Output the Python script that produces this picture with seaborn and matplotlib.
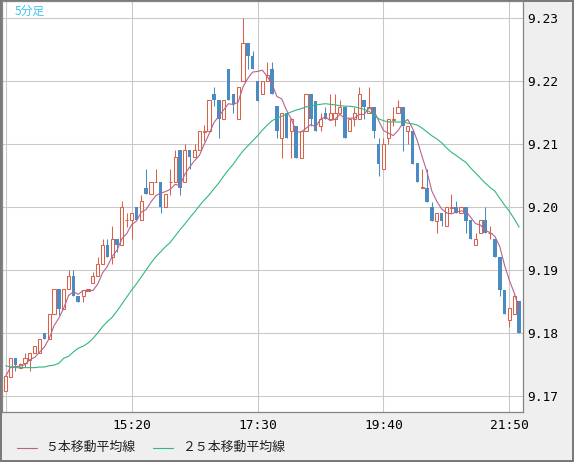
import numpy as np
import pandas as pd
import seaborn as sns
import matplotlib.pyplot as plt
from matplotlib.lines import Line2D


# 5-minute bars starting 13:10 (bar 0)
open_ = [9.1708, 9.1730, 9.1760, 9.1744, 9.1752, 9.1757, 9.1769, 9.1769, 9.1800, 9.1790,
         9.1830, 9.1870, 9.1838, 9.1870, 9.1890, 9.1859, 9.1859, 9.1867, 9.1879, 9.1890,
         9.1909, 9.1939, 9.1920, 9.1950, 9.1939, 9.1979, 9.1979, 9.2000, 9.1979, 9.2030,
         9.2021, 9.2039, 9.2040, 9.2000, 9.2039, 9.2039, 9.2090, 9.2039, 9.2090, 9.2079,
         9.2090, 9.2119, 9.2120, 9.2179, 9.2170, 9.2140, 9.2219, 9.2179, 9.2140, 9.2200,
         9.2260, 9.2239, 9.2200, 9.2179, 9.2200, 9.2219, 9.2160, 9.2109, 9.2149, 9.2120,
         9.2129, 9.2078, 9.2120, 9.2179, 9.2169, 9.2129, 9.2149, 9.2139, 9.2139, 9.2149,
         9.2159, 9.2120, 9.2139, 9.2139, 9.2170, 9.2149, 9.2159, 9.2100, 9.2060, 9.2109,
         9.2138, 9.2149, 9.2159, 9.2120, 9.2120, 9.2070, 9.2030, 9.2030, 9.2000, 9.1978,
         9.1990, 9.1970, 9.1999, 9.2000, 9.1990, 9.2000, 9.1979, 9.1940, 9.1959, 9.1979,
         9.1958, 9.1950, 9.1920, 9.1869, 9.1821, 9.1830, 9.1851]
high = [9.1731, 9.1760, 9.1760, 9.1752, 9.1769, 9.1769, 9.1779, 9.1790, 9.1800, 9.1830,
        9.1870, 9.1870, 9.1870, 9.1900, 9.1900, 9.1859, 9.1868, 9.1870, 9.1897, 9.1921,
        9.1950, 9.1950, 9.1970, 9.1950, 9.2010, 9.1990, 9.1990, 9.2000, 9.2019, 9.2060,
        9.2040, 9.2060, 9.2040, 9.2021, 9.2060, 9.2090, 9.2090, 9.2100, 9.2090, 9.2100,
        9.2120, 9.2130, 9.2170, 9.2191, 9.2170, 9.2170, 9.2219, 9.2179, 9.2190, 9.2300,
        9.2260, 9.2248, 9.2200, 9.2200, 9.2230, 9.2230, 9.2160, 9.2149, 9.2149, 9.2139,
        9.2129, 9.2120, 9.2179, 9.2179, 9.2169, 9.2149, 9.2158, 9.2179, 9.2179, 9.2170,
        9.2159, 9.2139, 9.2159, 9.2190, 9.2170, 9.2190, 9.2159, 9.2109, 9.2109, 9.2139,
        9.2159, 9.2170, 9.2159, 9.2129, 9.2120, 9.2070, 9.2060, 9.2060, 9.2008, 9.1990,
        9.1990, 9.2000, 9.2021, 9.2010, 9.2000, 9.2000, 9.1979, 9.1959, 9.1979, 9.2000,
        9.1970, 9.1950, 9.1920, 9.1869, 9.1839, 9.1860, 9.1851]
low = [9.1708, 9.1730, 9.1739, 9.1744, 9.1746, 9.1739, 9.1769, 9.1769, 9.1790, 9.1790,
       9.1830, 9.1829, 9.1838, 9.1870, 9.1859, 9.1850, 9.1850, 9.1867, 9.1879, 9.1890,
       9.1909, 9.1920, 9.1910, 9.1929, 9.1939, 9.1969, 9.1950, 9.1979, 9.1979, 9.2021,
       9.2021, 9.2039, 9.1990, 9.2000, 9.2019, 9.2039, 9.2019, 9.2039, 9.2060, 9.2079,
       9.2090, 9.2104, 9.2120, 9.2160, 9.2109, 9.2140, 9.2170, 9.2149, 9.2140, 9.2200,
       9.2219, 9.2219, 9.2168, 9.2179, 9.2200, 9.2179, 9.2109, 9.2078, 9.2109, 9.2078,
       9.2078, 9.2078, 9.2120, 9.2129, 9.2120, 9.2120, 9.2139, 9.2139, 9.2129, 9.2149,
       9.2109, 9.2120, 9.2129, 9.2139, 9.2139, 9.2149, 9.2109, 9.2049, 9.2060, 9.2100,
       9.2129, 9.2149, 9.2089, 9.2100, 9.2069, 9.2039, 9.2030, 9.2008, 9.1978, 9.1959,
       9.1970, 9.1970, 9.1990, 9.1990, 9.1990, 9.1959, 9.1950, 9.1940, 9.1959, 9.1959,
       9.1950, 9.1920, 9.1859, 9.1830, 9.1809, 9.1830, 9.1800]
close = [9.1731, 9.1760, 9.1749, 9.1750, 9.1760, 9.1769, 9.1779, 9.1790, 9.1790, 9.1830,
         9.1870, 9.1838, 9.1870, 9.1890, 9.1859, 9.1850, 9.1868, 9.1870, 9.1890, 9.1909,
         9.1939, 9.1920, 9.1950, 9.1939, 9.2000, 9.1980, 9.1990, 9.1979, 9.2010, 9.2021,
         9.2040, 9.2040, 9.2000, 9.2021, 9.2040, 9.2079, 9.2030, 9.2090, 9.2079, 9.2090,
         9.2120, 9.2120, 9.2170, 9.2170, 9.2140, 9.2170, 9.2170, 9.2163, 9.2190, 9.2260,
         9.2239, 9.2219, 9.2168, 9.2200, 9.2210, 9.2179, 9.2120, 9.2149, 9.2109, 9.2139,
         9.2078, 9.2120, 9.2179, 9.2139, 9.2120, 9.2139, 9.2139, 9.2149, 9.2149, 9.2159,
         9.2109, 9.2139, 9.2149, 9.2179, 9.2159, 9.2159, 9.2120, 9.2069, 9.2100, 9.2139,
         9.2139, 9.2159, 9.2129, 9.2129, 9.2069, 9.2039, 9.2031, 9.2008, 9.1978, 9.1990,
         9.1978, 9.2000, 9.2000, 9.1990, 9.2000, 9.1978, 9.1950, 9.1950, 9.1979, 9.1959,
         9.1959, 9.1920, 9.1869, 9.1830, 9.1839, 9.1859, 9.1800]
ma25 = [9.1748, 9.1746, 9.1745, 9.1745, 9.1745, 9.1745, 9.1745, 9.1746, 9.1746, 9.1748,
        9.1749, 9.1752, 9.1760, 9.1763, 9.1770, 9.1776, 9.1779, 9.1784, 9.1791, 9.1800,
        9.1810, 9.1818, 9.1825, 9.1835, 9.1846, 9.1857, 9.1868, 9.1878, 9.1889, 9.1900,
        9.1911, 9.1921, 9.1929, 9.1937, 9.1944, 9.1954, 9.1964, 9.1973, 9.1983, 9.1992,
        9.2002, 9.2011, 9.2019, 9.2029, 9.2038, 9.2049, 9.2059, 9.2068, 9.2079, 9.2089,
        9.2097, 9.2105, 9.2113, 9.2122, 9.2130, 9.2137, 9.2141, 9.2144, 9.2148, 9.2151,
        9.2154, 9.2156, 9.2159, 9.2160, 9.2162, 9.2163, 9.2164, 9.2163, 9.2162, 9.2161,
        9.2160, 9.2160, 9.2159, 9.2157, 9.2155, 9.2152, 9.2146, 9.2140, 9.2137, 9.2135,
        9.2135, 9.2135, 9.2135, 9.2133, 9.2132, 9.2130, 9.2125, 9.2119, 9.2113, 9.2108,
        9.2102, 9.2094, 9.2087, 9.2082, 9.2076, 9.2071, 9.2062, 9.2054, 9.2046, 9.2038,
        9.2031, 9.2025, 9.2014, 9.2003, 9.1993, 9.1981, 9.1968]

tick_bars = [0, 26, 52, 78, 104]
tick_labels = ['', '15:20', '17:30', '19:40', '21:50']
price_ticks = [9.17, 9.18, 9.19, 9.20, 9.21, 9.22, 9.23]

UP = '#d9634a'
DOWN = '#4b8bc4'
MA5_COLOR = '#b3648f'
MA25_COLOR = '#2fb97a'

df = pd.DataFrame({'bar': np.arange(len(close)), 'open': open_, 'high': high,
                   'low': low, 'close': close, 'ma25': ma25})
df['ma5'] = df['close'].rolling(5, min_periods=1).mean()

sns.set_theme(style='white')
plt.rcParams['font.family'] = ['DejaVu Sans Mono']

fig = plt.figure(figsize=(5.74, 4.62), dpi=100, facecolor='#efefef')
fig.patch.set_edgecolor('#7a7a7a')
fig.patch.set_linewidth(1.5)
ax = fig.add_axes([1.5 / 574, 50 / 462, 521.5 / 574, 411 / 462])
ax.set_facecolor('white')

up = df[df['close'] >= df['open']]
dn = df[df['close'] < df['open']]

ax.vlines(up['bar'], up['low'], up['high'], color=UP, lw=0.75, zorder=2)
ax.vlines(dn['bar'], dn['low'], dn['high'], color=DOWN, lw=0.75, zorder=2)
ax.bar(up['bar'], (up['close'] - up['open']).clip(lower=0.00002), bottom=up['open'],
       width=0.66, facecolor='white', edgecolor=UP, linewidth=0.75, zorder=3)
ax.bar(dn['bar'], dn['close'] - dn['open'], bottom=dn['open'],
       width=0.74, facecolor=DOWN, edgecolor='none', zorder=3)

sns.lineplot(data=df, x='bar', y='ma5', color=MA5_COLOR, lw=0.8, ax=ax, zorder=4)
sns.lineplot(data=df, x='bar', y='ma25', color=MA25_COLOR, lw=0.8, ax=ax, zorder=4)

ax.set_xlim(-0.85, 106.8)
ax.set_ylim(9.16746, 9.23270)
ax.set_xticks(tick_bars)
ax.set_xticklabels(tick_labels)
ax.set_yticks(price_ticks)
ax.set_yticklabels([f'{p:.2f}' for p in price_ticks])
ax.yaxis.tick_right()
ax.tick_params(axis='both', length=0, labelsize=9.3, colors='black')
ax.tick_params(axis='y', pad=3)
ax.tick_params(axis='x', pad=5)
ax.grid(True, color='#c8c8c8', lw=0.75)
ax.set_axisbelow(True)
ax.set_xlabel('')
ax.set_ylabel('')
for s in ax.spines.values():
    s.set_color('#858585')
    s.set_linewidth(0.9)

fig.text(15 / 574, 1 - 11 / 462, '5分足', fontsize=8.5, color='#3ec3f0', va='center',
         family=['Noto Sans CJK JP', 'DejaVu Sans'])

ly = 1 - 447.5 / 462
fig.add_artist(Line2D([17 / 574, 37 / 574], [ly, ly], color=MA5_COLOR, lw=0.8))
fig.text(45 / 574, ly, '５本移動平均線', va='center', fontsize=9.3, color='#222222',
         family=['Noto Sans CJK JP', 'DejaVu Sans'])
fig.add_artist(Line2D([153 / 574, 173 / 574], [ly, ly], color=MA25_COLOR, lw=0.8))
fig.text(182 / 574, ly, '２５本移動平均線', va='center', fontsize=9.3, color='#222222',
         family=['Noto Sans CJK JP', 'DejaVu Sans'])

fig.savefig('out.png', dpi=100, facecolor=fig.get_facecolor(), edgecolor=fig.get_edgecolor())
